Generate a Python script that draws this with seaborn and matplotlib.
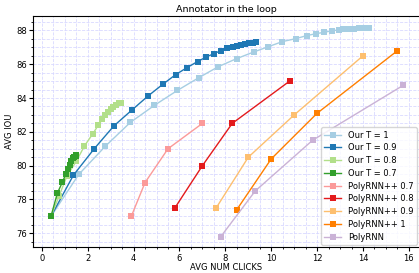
import numpy as np
import pandas as pd
import matplotlib
matplotlib.use('Agg')
import matplotlib.pyplot as plt
import seaborn as sns
from matplotlib.ticker import MultipleLocator

# series values
our_t1_x = [0.4, 1.61, 2.77, 3.86, 4.91, 5.91, 6.85, 7.70, 8.49, 9.23, 9.88, 10.49, 11.06,
            11.54, 11.96, 12.32, 12.67, 12.94, 13.15, 13.37, 13.59, 13.81, 14.03, 14.24]
our_t1_y = [77.0, 79.48, 81.15, 82.56, 83.57, 84.45, 85.21, 85.86, 86.33, 86.72, 87.04, 87.34, 87.51,
            87.69, 87.81, 87.89, 87.99, 88.02, 88.06, 88.08, 88.10, 88.12, 88.14, 88.16]

our_t09_x = [0.4, 1.38, 2.29, 3.14, 3.91, 4.62, 5.28, 5.84, 6.33, 6.79, 7.17, 7.51, 7.82,
             8.09, 8.33, 8.50, 8.68, 8.85, 9.03, 9.20, 9.35]
our_t09_y = [77.0, 79.44, 81.01, 82.35, 83.27, 84.11, 84.82, 85.39, 85.80, 86.16, 86.43, 86.63, 86.81,
             86.94, 87.04, 87.10, 87.16, 87.20, 87.24, 87.28, 87.30]

our_t08_x = [0.4, 0.75, 1.1, 1.5, 1.86, 2.21, 2.47, 2.64, 2.77, 2.89, 3.01, 3.12, 3.24, 3.36, 3.47]
our_t08_y = [77.0, 78.2, 79.4, 80.25, 81.17, 81.86, 82.41, 82.74, 82.98, 83.17, 83.35, 83.48, 83.60, 83.68, 83.72]

our_t07_x = [0.4, 0.68, 0.90, 1.05, 1.15, 1.22, 1.29, 1.36, 1.42, 1.47, 1.50]
our_t07_y = [77.0, 78.38, 79.03, 79.52, 79.81, 80.05, 80.28, 80.44, 80.52, 80.58, 80.62]

prnn07_x = [3.9, 4.5, 5.5, 7.0]
prnn07_y = [77.0, 79.0, 81.0, 82.5]
prnn08_x = [5.8, 7.0, 8.3, 10.8]
prnn08_y = [77.5, 80.0, 82.5, 85.0]
prnn09_x = [7.6, 9.0, 11.0, 14.0]
prnn09_y = [77.5, 80.5, 83.0, 86.5]
prnn1_x = [8.5, 10.0, 12.0, 15.5]
prnn1_y = [77.4, 80.4, 83.1, 86.8]
polyrnn_x = [7.8, 9.3, 11.8, 15.75]
polyrnn_y = [75.8, 78.5, 81.5, 84.75]

labels = ['Our T = 1', 'Our T = 0.9', 'Our T = 0.8', 'Our T = 0.7',
          'PolyRNN++ 0.7', 'PolyRNN++ 0.8', 'PolyRNN++ 0.9', 'PolyRNN++ 1', 'PolyRNN']
xs = [our_t1_x, our_t09_x, our_t08_x, our_t07_x, prnn07_x, prnn08_x, prnn09_x, prnn1_x, polyrnn_x]
ys = [our_t1_y, our_t09_y, our_t08_y, our_t07_y, prnn07_y, prnn08_y, prnn09_y, prnn1_y, polyrnn_y]

rows = []
for lab, x, y in zip(labels, xs, ys):
    for i, (a, b) in enumerate(zip(x, y)):
        rows.append({'method': lab, 'order': i, 'clicks': a, 'iou': b})
df = pd.DataFrame(rows)

fig = plt.figure(figsize=(4.19, 2.73), dpi=100)
ax = fig.add_axes([0.0795, 0.094, 0.921, 0.8485])

palette = sns.color_palette('Paired', 9)
sns.lineplot(data=df, x='clicks', y='iou', hue='method', hue_order=labels,
             palette=palette, marker='s', markersize=4, markeredgewidth=0,
             linewidth=1, sort=False, estimator=None, units='method', ax=ax)

ax.set_xlim(-0.37, 16.45)
ax.set_ylim(75.17, 88.87)
ax.xaxis.set_major_locator(MultipleLocator(2))
ax.xaxis.set_minor_locator(MultipleLocator(0.5))
ax.yaxis.set_major_locator(MultipleLocator(2))
ax.yaxis.set_minor_locator(MultipleLocator(0.5))
ax.grid(which='both', linestyle='--', color=(0.85, 0.85, 1.0), linewidth=0.6)
ax.set_axisbelow(True)
ax.spines['right'].set_visible(False)
ax.tick_params(axis='both', which='major', labelsize=6, length=3, width=0.8, pad=1.5)
ax.tick_params(axis='both', which='minor', length=1.5, width=0.6)

ax.set_xlabel('AVG NUM CLICKS', fontsize=6, labelpad=0.5)
ax.set_ylabel('AVG IOU', fontsize=6, labelpad=1.5)
ax.set_title('Annotator in the loop', fontsize=6.8, pad=3)

handles, labs = ax.get_legend_handles_labels()
ax.legend(handles, labs, loc='lower right', fontsize=6, frameon=True,
          borderaxespad=0.3, labelspacing=0.45, handlelength=2.0)

fig.savefig('out.png', dpi=100)
